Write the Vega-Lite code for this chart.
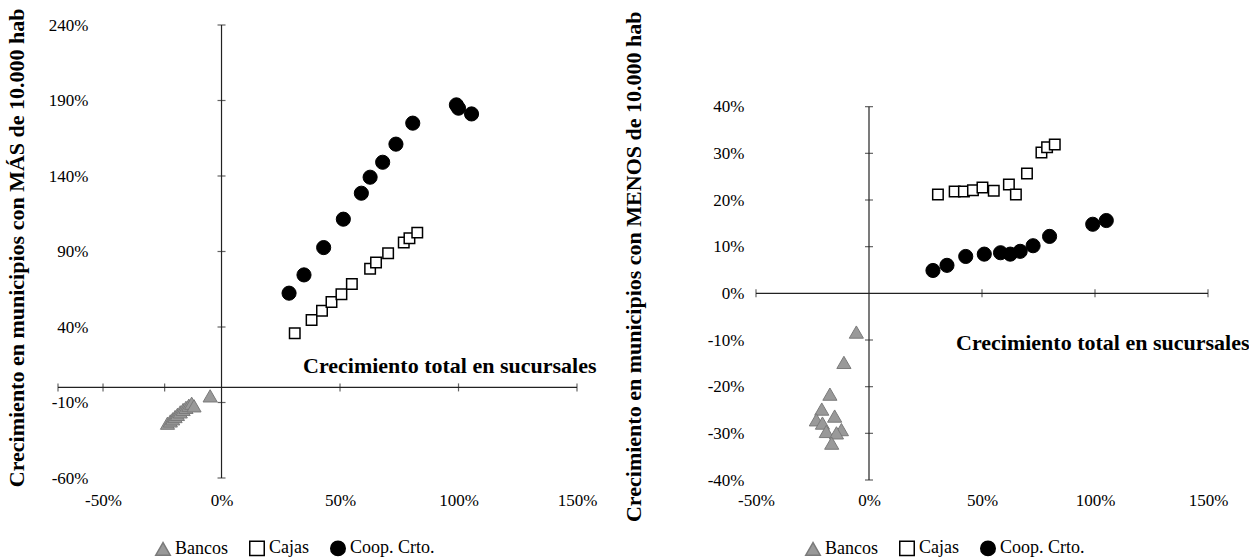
{
  "$schema": "https://vega.github.io/schema/vega-lite/v6.json",
  "padding": {"left": 4, "top": 8, "right": 0, "bottom": 0},
  "background": "white",
  "spacing": 179,
  "bounds": "flush",
  "config": {
    "view": {"stroke": null},
    "font": "Liberation Serif",
    "axis": {"labelFont": "Liberation Serif", "titleFont": "Liberation Serif", "labelColor": "#000", "titleColor": "#000", "grid": false, "domain": false, "ticks": false, "labelFlush": false, "labelOverlap": false},
    "legend": {"labelFont": "Liberation Serif", "labelColor": "#000"}
  },
  "resolve": {
    "scale": {"shape": "independent", "fill": "independent", "stroke": "independent", "x": "independent", "y": "independent"},
    "legend": {"shape": "independent", "fill": "independent", "stroke": "independent"}
  },
  "datasets": {
    "left": [
      {"tipo": "Bancos", "x": -22.8, "y": -23.7},
      {"tipo": "Bancos", "x": -21.6, "y": -22.2},
      {"tipo": "Bancos", "x": -20.6, "y": -20.8},
      {"tipo": "Bancos", "x": -19.6, "y": -19.3},
      {"tipo": "Bancos", "x": -18.6, "y": -17.9},
      {"tipo": "Bancos", "x": -17.4, "y": -16.2},
      {"tipo": "Bancos", "x": -16.2, "y": -14.6},
      {"tipo": "Bancos", "x": -15.0, "y": -13.2},
      {"tipo": "Bancos", "x": -13.8, "y": -11.8},
      {"tipo": "Bancos", "x": -12.6, "y": -10.5},
      {"tipo": "Bancos", "x": -11.6, "y": -12.2},
      {"tipo": "Bancos", "x": -4.8, "y": -5.6},
      {"tipo": "Coop. Crto.", "x": 28.5, "y": 62.4},
      {"tipo": "Coop. Crto.", "x": 34.8, "y": 74.5},
      {"tipo": "Coop. Crto.", "x": 43.1, "y": 92.6},
      {"tipo": "Coop. Crto.", "x": 51.4, "y": 111.4},
      {"tipo": "Coop. Crto.", "x": 59.0, "y": 128.6},
      {"tipo": "Coop. Crto.", "x": 62.7, "y": 139.2},
      {"tipo": "Coop. Crto.", "x": 68.0, "y": 149.1},
      {"tipo": "Coop. Crto.", "x": 73.6, "y": 161.1},
      {"tipo": "Coop. Crto.", "x": 80.7, "y": 175.0},
      {"tipo": "Coop. Crto.", "x": 99.1, "y": 187.1},
      {"tipo": "Coop. Crto.", "x": 100.0, "y": 184.9},
      {"tipo": "Coop. Crto.", "x": 105.5, "y": 181.1},
      {"tipo": "Cajas", "x": 30.9, "y": 35.9},
      {"tipo": "Cajas", "x": 38.0, "y": 44.7},
      {"tipo": "Cajas", "x": 42.4, "y": 50.7},
      {"tipo": "Cajas", "x": 46.4, "y": 56.6},
      {"tipo": "Cajas", "x": 50.6, "y": 61.7},
      {"tipo": "Cajas", "x": 55.0, "y": 68.5},
      {"tipo": "Cajas", "x": 62.7, "y": 78.5},
      {"tipo": "Cajas", "x": 65.2, "y": 82.7},
      {"tipo": "Cajas", "x": 70.3, "y": 88.9},
      {"tipo": "Cajas", "x": 76.9, "y": 95.9},
      {"tipo": "Cajas", "x": 79.3, "y": 98.8},
      {"tipo": "Cajas", "x": 82.6, "y": 102.5}
    ],
    "right": [
      {"tipo": "Bancos", "x": -5.6, "y": -8.3},
      {"tipo": "Bancos", "x": -11.1, "y": -14.8},
      {"tipo": "Bancos", "x": -17.3, "y": -21.6},
      {"tipo": "Bancos", "x": -20.9, "y": -24.8},
      {"tipo": "Bancos", "x": -23.3, "y": -27.1},
      {"tipo": "Bancos", "x": -20.6, "y": -27.8},
      {"tipo": "Bancos", "x": -15.2, "y": -26.3},
      {"tipo": "Bancos", "x": -18.9, "y": -29.6},
      {"tipo": "Bancos", "x": -12.2, "y": -29.2},
      {"tipo": "Bancos", "x": -14.4, "y": -29.9},
      {"tipo": "Bancos", "x": -16.5, "y": -32.1},
      {"tipo": "Coop. Crto.", "x": 28.3, "y": 4.9},
      {"tipo": "Coop. Crto.", "x": 34.5, "y": 6.0},
      {"tipo": "Coop. Crto.", "x": 42.8, "y": 7.9},
      {"tipo": "Coop. Crto.", "x": 51.0, "y": 8.4},
      {"tipo": "Coop. Crto.", "x": 58.2, "y": 8.7},
      {"tipo": "Coop. Crto.", "x": 62.5, "y": 8.4},
      {"tipo": "Coop. Crto.", "x": 66.9, "y": 9.0},
      {"tipo": "Coop. Crto.", "x": 72.6, "y": 10.2},
      {"tipo": "Coop. Crto.", "x": 79.9, "y": 12.2},
      {"tipo": "Coop. Crto.", "x": 99.0, "y": 14.8},
      {"tipo": "Coop. Crto.", "x": 105.0, "y": 15.6},
      {"tipo": "Cajas", "x": 30.5, "y": 21.2},
      {"tipo": "Cajas", "x": 37.9, "y": 21.8},
      {"tipo": "Cajas", "x": 42.0, "y": 21.8},
      {"tipo": "Cajas", "x": 46.0, "y": 22.1},
      {"tipo": "Cajas", "x": 50.2, "y": 22.7},
      {"tipo": "Cajas", "x": 55.2, "y": 22.0},
      {"tipo": "Cajas", "x": 61.9, "y": 23.3},
      {"tipo": "Cajas", "x": 65.0, "y": 21.2},
      {"tipo": "Cajas", "x": 69.9, "y": 25.7},
      {"tipo": "Cajas", "x": 76.3, "y": 30.2},
      {"tipo": "Cajas", "x": 78.8, "y": 31.3},
      {"tipo": "Cajas", "x": 82.2, "y": 31.9}
    ]
  },
  "hconcat": [
    {
      "width": 519,
      "height": 453,
      "encoding": {
        "x": {"field": "x", "type": "quantitative", "scale": {"domain": [-69, 150], "nice": false, "zero": false},
          "axis": {"values": [-50, 0, 50, 100, 150], "labelExpr": "datum.value + '%'", "labelFont": "Liberation Serif", "labelFontSize": 17, "labelPadding": 14,
            "title": "Crecimiento total en sucursales", "titleFontSize": 22, "titleFontWeight": "bold", "titleX": 538, "titleY": -113, "titleAlign": "right", "titleBaseline": "middle"}},
        "y": {"field": "y", "type": "quantitative", "scale": {"domain": [-60, 240], "nice": false, "zero": false},
          "axis": {"values": [-60, -10, 40, 90, 140, 190, 240], "labelExpr": "datum.value + '%'", "labelFont": "Liberation Serif", "labelFontSize": 17, "labelPadding": -30, "labelBaseline": "middle",
            "title": "Crecimiento en municipios con MÁS de 10.000 hab", "titleFontSize": 22, "titleFontWeight": "bold", "titleAngle": -90, "titleX": -42, "titleY": -17, "titleAlign": "right", "titleBaseline": "middle"}}
      },
      "layer": [
        {"data": {"values": [{"x": 0, "y": -60, "y2": 240}]}, "mark": {"type": "rule", "color": "#222", "strokeWidth": 1.2}, "encoding": {"y2": {"field": "y2"}}},
        {"data": {"values": [{"x": -69, "x2": 150, "y": 0}]}, "mark": {"type": "rule", "color": "#222", "strokeWidth": 1.2}, "encoding": {"x2": {"field": "x2"}}},
        {"data": {"values": [{"x": 0, "y": -60}, {"x": 0, "y": -10}, {"x": 0, "y": 40}, {"x": 0, "y": 90}, {"x": 0, "y": 140}, {"x": 0, "y": 190}, {"x": 0, "y": 240}]},
          "mark": {"type": "tick", "orient": "horizontal", "size": 8, "thickness": 1.2, "color": "#222"}},
        {"data": {"values": [{"x": -69, "y": 0}, {"x": -50, "y": 0}, {"x": -24, "y": 0}, {"x": 50, "y": 0}, {"x": 100, "y": 0}, {"x": 150, "y": 0}]},
          "mark": {"type": "tick", "orient": "vertical", "size": 8, "thickness": 1.2, "color": "#222"}},
        {"data": {"name": "left"},
          "mark": {"type": "point", "filled": true, "opacity": 1},
          "encoding": {
            "shape": {"field": "tipo", "type": "nominal", "scale": {"domain": ["Bancos", "Cajas", "Coop. Crto."], "range": ["triangle-up", "square", "circle"]},
              "legend": {"orient": "none", "legendX": 96, "legendY": 514, "direction": "horizontal", "title": null, "labelFontSize": 18, "symbolSize": 210, "symbolStrokeWidth": 1.5, "columnPadding": 18, "labelOffset": 3}},
            "fill": {"field": "tipo", "type": "nominal", "scale": {"domain": ["Bancos", "Cajas", "Coop. Crto."], "range": ["#999999", "#ffffff", "#000000"]}},
            "stroke": {"field": "tipo", "type": "nominal", "scale": {"domain": ["Bancos", "Cajas", "Coop. Crto."], "range": ["#7a7a7a", "#000000", "#000000"]}},
            "size": {"condition": {"test": "datum.tipo === 'Cajas'", "value": 110}, "value": 200},
            "strokeWidth": {"condition": {"test": "datum.tipo === 'Cajas'", "value": 1.5}, "value": 1}
          }
        }
      ]
    },
    {
      "width": 452,
      "height": 455,
      "encoding": {
        "x": {"field": "x", "type": "quantitative", "scale": {"domain": [-50, 150], "nice": false, "zero": false},
          "axis": {"values": [-50, 0, 50, 100, 150], "labelExpr": "datum.value + '%'", "labelFont": "Liberation Serif", "labelFontSize": 17, "labelPadding": 12,
            "title": "Crecimiento total en sucursales", "titleFontSize": 22, "titleFontWeight": "bold", "titleX": 493, "titleY": -138, "titleAlign": "right", "titleBaseline": "middle"}},
        "y": {"field": "y", "type": "quantitative", "scale": {"domain": [-40, 57.5], "nice": false, "zero": false},
          "axis": {"values": [-40, -30, -20, -10, 0, 10, 20, 30, 40], "labelExpr": "datum.value + '%'", "labelFont": "Liberation Serif", "labelFontSize": 17, "labelPadding": 12, "labelBaseline": "middle",
            "title": "Crecimiento en municipios con MENOS de 10.000 hab", "titleFontSize": 22, "titleFontWeight": "bold", "titleAngle": -90, "titleX": -123, "titleY": -14, "titleAlign": "right", "titleBaseline": "middle"}}
      },
      "layer": [
        {"data": {"values": [{"x": 0, "y": -40, "y2": 40}]}, "mark": {"type": "rule", "color": "#222", "strokeWidth": 1.2}, "encoding": {"y2": {"field": "y2"}}},
        {"data": {"values": [{"x": -50, "x2": 150, "y": 0}]}, "mark": {"type": "rule", "color": "#222", "strokeWidth": 1.2}, "encoding": {"x2": {"field": "x2"}}},
        {"data": {"values": [{"x": 0, "y": -40}, {"x": 0, "y": -30}, {"x": 0, "y": -20}, {"x": 0, "y": -10}, {"x": 0, "y": 10}, {"x": 0, "y": 20}, {"x": 0, "y": 30}, {"x": 0, "y": 40}]},
          "mark": {"type": "tick", "orient": "horizontal", "size": 8, "thickness": 1.2, "color": "#222"}},
        {"data": {"values": [{"x": -50, "y": 0}, {"x": 50, "y": 0}, {"x": 100, "y": 0}, {"x": 150, "y": 0}]},
          "mark": {"type": "tick", "orient": "vertical", "size": 8, "thickness": 1.2, "color": "#222"}},
        {"data": {"name": "right"},
          "mark": {"type": "point", "filled": true, "opacity": 1},
          "encoding": {
            "shape": {"field": "tipo", "type": "nominal", "scale": {"domain": ["Bancos", "Cajas", "Coop. Crto."], "range": ["triangle-up", "square", "circle"]},
              "legend": {"orient": "none", "legendX": 48, "legendY": 514, "direction": "horizontal", "title": null, "labelFontSize": 18, "symbolSize": 210, "symbolStrokeWidth": 1.5, "columnPadding": 18, "labelOffset": 3}},
            "fill": {"field": "tipo", "type": "nominal", "scale": {"domain": ["Bancos", "Cajas", "Coop. Crto."], "range": ["#999999", "#ffffff", "#000000"]}},
            "stroke": {"field": "tipo", "type": "nominal", "scale": {"domain": ["Bancos", "Cajas", "Coop. Crto."], "range": ["#7a7a7a", "#000000", "#000000"]}},
            "size": {"condition": {"test": "datum.tipo === 'Cajas'", "value": 110}, "value": 200},
            "strokeWidth": {"condition": {"test": "datum.tipo === 'Cajas'", "value": 1.5}, "value": 1}
          }
        }
      ]
    }
  ]
}
